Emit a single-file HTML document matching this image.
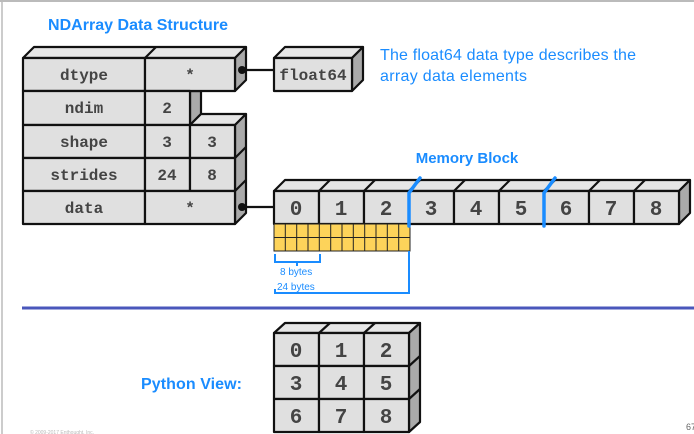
<!DOCTYPE html>
<html><head><meta charset="utf-8"><style>
html,body{margin:0;padding:0;background:#fff;}
svg{display:block;}
.m{font-family:"Liberation Mono",monospace;font-weight:bold;fill:#444;text-anchor:middle;}
.b{font-family:"Liberation Sans",sans-serif;fill:#1a8cff;}
</style></head><body>
<svg width="694" height="434" viewBox="0 0 694 434" xmlns="http://www.w3.org/2000/svg">
<rect x="0" y="0" width="694" height="434" fill="#fff"/>
<line x1="0" y1="1" x2="694" y2="1" stroke="#bbb" stroke-width="2"/>
<line x1="2" y1="0" x2="2" y2="434" stroke="#bbb" stroke-width="1.5"/>
<text x="48" y="30" class="b" font-size="16" font-weight="bold" textLength="180">NDArray Data Structure</text>
<text x="380" y="60" class="b" font-size="16" textLength="256">The float64 data type describes the</text>
<text x="380" y="81" class="b" font-size="16" textLength="147">array data elements</text>
<text x="467" y="163" class="b" font-size="15" font-weight="bold" text-anchor="middle">Memory Block</text>

<g stroke="#111" stroke-width="2.2" stroke-linejoin="round">
<polygon points="23,58 34,47 246,47 235,58" fill="#e6e6e6"/>
<line x1="145" y1="58" x2="156" y2="47"/>
<polygon points="235,58 246,47 246,80 235,91" fill="#aaa"/>
<polygon points="190,91 201,91 201,114 190,125" fill="#aaa"/>
<polygon points="190,125 201,114 246,114 235,125" fill="#e6e6e6"/>
<polygon points="235,125 246,114 246,213 235,224" fill="#aaa"/>
<line x1="235" y1="158" x2="246" y2="147"/>
<line x1="235" y1="191" x2="246" y2="180"/>
<g fill="#e0e0e0">
<rect x="23" y="58" width="122" height="33"/><rect x="145" y="58" width="90" height="33"/>
<rect x="23" y="91" width="122" height="34"/><rect x="145" y="91" width="45" height="34"/>
<rect x="23" y="125" width="122" height="33"/><rect x="145" y="125" width="45" height="33"/><rect x="190" y="125" width="45" height="33"/>
<rect x="23" y="158" width="122" height="33"/><rect x="145" y="158" width="45" height="33"/><rect x="190" y="158" width="45" height="33"/>
<rect x="23" y="191" width="122" height="33"/><rect x="145" y="191" width="90" height="33"/>
</g>
<polygon points="274,58 285,47 363,47 352,58" fill="#e6e6e6"/>
<polygon points="352,58 363,47 363,80 352,91" fill="#aaa"/>
<rect x="274" y="58" width="78" height="33" fill="#e0e0e0"/>
<line x1="242" y1="70" x2="274" y2="70"/>
<line x1="242" y1="207" x2="274" y2="207"/>
<polygon points="274,191 285,180 690,180 679,191" fill="#e6e6e6"/>
<polygon points="679,191 690,180 690,213 679,224" fill="#aaa"/>
<g fill="#e0e0e0">
<rect x="274" y="191" width="45" height="33"/><rect x="319" y="191" width="45" height="33"/><rect x="364" y="191" width="45" height="33"/>
<rect x="409" y="191" width="45" height="33"/><rect x="454" y="191" width="45" height="33"/><rect x="499" y="191" width="45" height="33"/>
<rect x="544" y="191" width="45" height="33"/><rect x="589" y="191" width="45" height="33"/><rect x="634" y="191" width="45" height="33"/>
</g>
<line x1="319" y1="191" x2="330" y2="180"/><line x1="364" y1="191" x2="375" y2="180"/><line x1="409" y1="191" x2="420" y2="180"/>
<line x1="454" y1="191" x2="465" y2="180"/><line x1="499" y1="191" x2="510" y2="180"/><line x1="544" y1="191" x2="555" y2="180"/>
<line x1="589" y1="191" x2="600" y2="180"/><line x1="634" y1="191" x2="645" y2="180"/>
<polygon points="274,333 285,323 420,323 409,333" fill="#e6e6e6"/>
<polygon points="409,333 420,323 420,422 409,432" fill="#aaa"/>
<line x1="319" y1="333" x2="330" y2="323"/><line x1="364" y1="333" x2="375" y2="323"/>
<line x1="409" y1="366" x2="420" y2="356"/><line x1="409" y1="399" x2="420" y2="389"/>
<g fill="#e0e0e0">
<rect x="274" y="333" width="45" height="33"/><rect x="319" y="333" width="45" height="33"/><rect x="364" y="333" width="45" height="33"/>
<rect x="274" y="366" width="45" height="33"/><rect x="319" y="366" width="45" height="33"/><rect x="364" y="366" width="45" height="33"/>
<rect x="274" y="399" width="45" height="33"/><rect x="319" y="399" width="45" height="33"/><rect x="364" y="399" width="45" height="33"/>
</g>
</g>
<circle cx="242" cy="70" r="4" fill="#111"/>
<circle cx="242" cy="207" r="4" fill="#111"/>

<g class="m" font-size="16">
<text x="84" y="80">dtype</text><text x="190" y="80">*</text>
<text x="84" y="113">ndim</text><text x="167" y="113">2</text>
<text x="84" y="147">shape</text><text x="167" y="147">3</text><text x="212" y="147">3</text>
<text x="84" y="180">strides</text><text x="167" y="180">24</text><text x="212" y="180">8</text>
<text x="84" y="213">data</text><text x="190" y="213">*</text>
<text x="313" y="80">float64</text>
</g>
<g class="m" font-size="21">
<text x="296" y="215">0</text><text x="341" y="215">1</text><text x="386" y="215">2</text>
<text x="431" y="215">3</text><text x="476" y="215">4</text><text x="521" y="215">5</text>
<text x="566" y="215">6</text><text x="611" y="215">7</text><text x="656" y="215">8</text>
<text x="296" y="357">0</text><text x="341" y="357">1</text><text x="386" y="357">2</text>
<text x="296" y="390">3</text><text x="341" y="390">4</text><text x="386" y="390">5</text>
<text x="296" y="423">6</text><text x="341" y="423">7</text><text x="386" y="423">8</text>
</g>

<rect x="274" y="224" width="136" height="27" fill="#fdd35a" stroke="#222" stroke-width="1"/>
<g stroke="#222" stroke-width="1">
<line x1="274" y1="237.5" x2="410" y2="237.5"/>
<line x1="285.3" y1="224" x2="285.3" y2="251"/><line x1="296.7" y1="224" x2="296.7" y2="251"/>
<line x1="308" y1="224" x2="308" y2="251"/><line x1="319.3" y1="224" x2="319.3" y2="251"/>
<line x1="330.7" y1="224" x2="330.7" y2="251"/><line x1="342" y1="224" x2="342" y2="251"/>
<line x1="353.3" y1="224" x2="353.3" y2="251"/><line x1="364.7" y1="224" x2="364.7" y2="251"/>
<line x1="376" y1="224" x2="376" y2="251"/><line x1="387.3" y1="224" x2="387.3" y2="251"/>
<line x1="398.7" y1="224" x2="398.7" y2="251"/>
</g>
<g stroke="#1a8cff" fill="none" stroke-width="3.5" stroke-linecap="round">
<path d="M409,226 L409,193 L420,178"/>
<path d="M544,226 L544,193 L555,178"/>
</g>
<g stroke="#1a8cff" fill="none" stroke-width="2">
<path d="M275,254 L275,262 L320,262 L320,254 M297,262 L297,266"/>
<path d="M275,289 L275,293 L409,293 L409,251"/>
</g>
<text x="280" y="275" class="b" font-size="10">8 bytes</text>
<text x="277" y="290" class="b" font-size="10">24 bytes</text>

<line x1="22" y1="308" x2="694" y2="308" stroke="#4a57bb" stroke-width="3"/>
<text x="141" y="389" class="b" font-size="16" font-weight="bold" textLength="101">Python View:</text>
<text x="30" y="434" font-family="Liberation Sans,sans-serif" font-size="5" fill="#bbb">© 2009-2017 Enthought, Inc.</text>
<text x="686" y="430" font-family="Liberation Sans,sans-serif" font-size="9" fill="#666">67</text>
</svg>
</body></html>
